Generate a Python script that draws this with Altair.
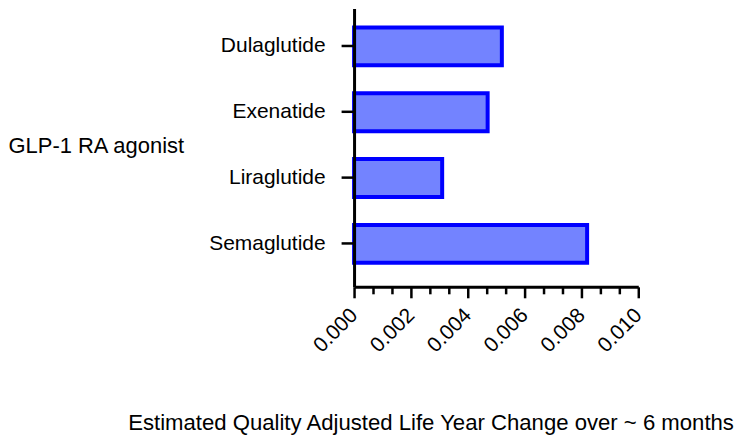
import altair as alt
import pandas as pd

# Data
drugs = ["Dulaglutide", "Exenatide", "Liraglutide", "Semaglutide"]
qaly_change = [0.0052, 0.0047, 0.0031, 0.0082]

# Axis ticks: major ticks with two minor ticks between each pair
major_ticks = [0.000, 0.002, 0.004, 0.006, 0.008, 0.010]
minor_subdivisions = 3

tick_values = []
for a, b in zip(major_ticks[:-1], major_ticks[1:]):
    for k in range(minor_subdivisions):
        tick_values.append(a + (b - a) * k / minor_subdivisions)
tick_values.append(major_ticks[-1])

df = pd.DataFrame({"drug": drugs, "qaly": qaly_change})

is_major = "abs(datum.value*500 - round(datum.value*500)) < 0.000001"
FONT = "Liberation Sans"

x_axis = alt.Axis(
    values=tick_values,
    title="Estimated Quality Adjusted Life Year Change over ~ 6 months",
    labelExpr=f"({is_major}) ? format(datum.value, '.3f') : ''",
    labelAngle=-45,
    labelAlign="right",
    labelBaseline="middle",
    labelPadding=14,
    labelFontSize=21,
    labelFont=FONT,
    labelColor="black",
    labelOverlap=False,
    labelFlush=False,
    tickSize={"condition": {"test": is_major, "value": 11}, "value": 7},
    tickWidth=2.5,
    tickColor="black",
    domainColor="black",
    domainWidth=3,
    grid=False,
    titleFont=FONT,
    titleFontSize=22.2,
    titleFontWeight="normal",
    titleColor="black",
    titleAlign="left",
    titleAnchor="start",
    titleBaseline="alphabetic",
    titleX=-227,
    titleY=143,
    zindex=1,
)

y_axis = alt.Axis(
    title="GLP-1 RA agonist",
    titleAngle=0,
    titleAlign="left",
    titleBaseline="middle",
    titleX=-347,
    titleY=137,
    titleFont=FONT,
    titleFontSize=22,
    titleFontWeight="normal",
    titleColor="black",
    labelFont=FONT,
    labelFontSize=21,
    labelColor="black",
    labelPadding=16,
    tickSize=13,
    tickWidth=2.5,
    tickColor="black",
    domainColor="black",
    domainWidth=3,
    grid=False,
    zindex=1,
)

chart = (
    alt.Chart(df)
    .mark_bar(fill="#7383FF", stroke="#0000FF", strokeWidth=4)
    .encode(
        x=alt.X("qaly:Q", scale=alt.Scale(domain=[0, 0.01], nice=False, zero=True), axis=x_axis),
        y=alt.Y(
            "drug:N",
            sort=drugs,
            scale=alt.Scale(paddingInner=0.424, paddingOuter=0.326, align=0.44),
            axis=y_axis,
        ),
    )
    .properties(
        width=285,
        height=279,
        autosize=alt.AutoSizeParams(type="none"),
        padding={"left": 347, "top": 0, "right": 104, "bottom": 149},
    )
    .configure_view(stroke=None)
)

chart.save("out.html", embed_options={"renderer": "svg", "actions": False})
